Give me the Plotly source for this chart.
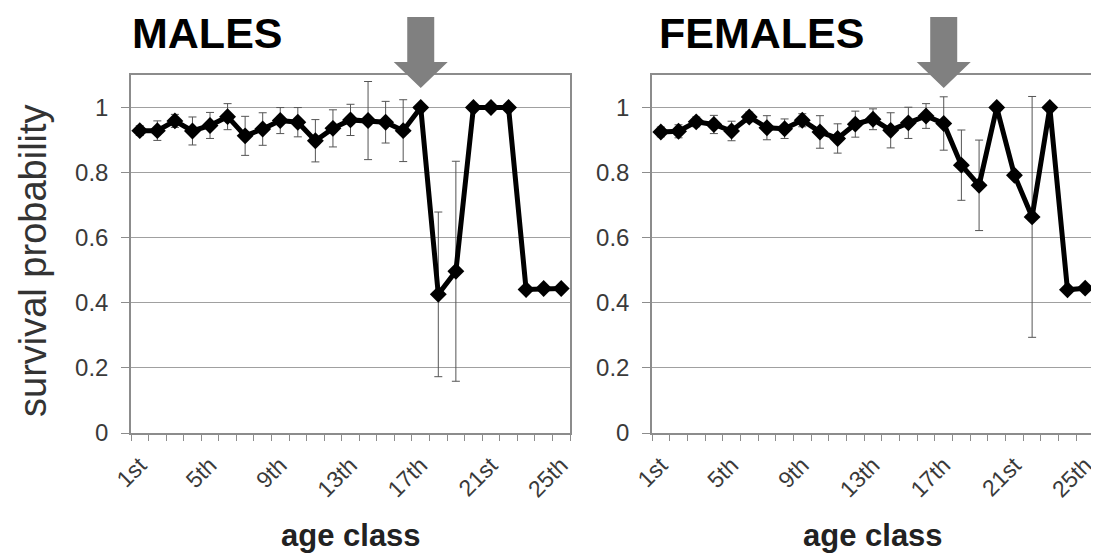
import plotly.graph_objects as go

# ---------------- data ----------------
age_classes = list(range(1, 26))
tick_positions = [1, 5, 9, 13, 17, 21, 25]
tick_labels = ["1st", "5th", "9th", "13th", "17th", "21st", "25th"]

male_survival = [0.929, 0.929, 0.959, 0.928, 0.945, 0.972, 0.913, 0.934, 0.960, 0.955,
                 0.898, 0.936, 0.962, 0.960, 0.955, 0.929, 1.000, 0.426, 0.497, 1.000,
                 1.000, 1.000, 0.441, 0.444, 0.444]
male_error = [0.015, 0.030, 0.020, 0.043, 0.040, 0.040, 0.060, 0.050, 0.040, 0.045,
              0.065, 0.057, 0.048, 0.120, 0.064, 0.095, 0.0, 0.253, 0.338, 0.0,
              0.0, 0.0, 0.0, 0.0, 0.0]

female_survival = [0.925, 0.927, 0.956, 0.948, 0.928, 0.971, 0.938, 0.935, 0.961, 0.925,
                   0.905, 0.949, 0.964, 0.930, 0.953, 0.974, 0.951, 0.823, 0.761, 1.000,
                   0.792, 0.664, 1.000, 0.440, 0.445]
female_error = [0.015, 0.020, 0.015, 0.028, 0.030, 0.015, 0.037, 0.030, 0.020, 0.050,
                0.045, 0.040, 0.032, 0.054, 0.048, 0.038, 0.082, 0.108, 0.139, 0.0,
                0.0, 0.370, 0.0, 0.0, 0.0]

panel_titles = ["MALES", "FEMALES"]
arrow_class = 17  # age class marked by the arrow

# ---------------- figure ----------------
# the page body has an 8px margin, so the figure is drawn 8px in from the window corner
OFF = 8
W, H = 1099 - OFF, 556 - OFF
FONT = "Liberation Sans, Arial, Helvetica, sans-serif"
TEXT = "#3a3a3a"
GRID = "#a0a0a0"
AXIS = "#8c8c8c"

def px_x(p):  # window pixel -> paper x
    return (p - OFF) / W

def px_y(p):  # window pixel -> paper y
    return 1 - (p - OFF) / H

fig = go.Figure()

for i, (ys, es) in enumerate([(male_survival, male_error), (female_survival, female_error)]):
    fig.add_trace(go.Scatter(
        x=age_classes, y=ys,
        xaxis="x" if i == 0 else "x2", yaxis="y" if i == 0 else "y2",
        mode="lines+markers",
        line=dict(color="black", width=5),
        marker=dict(symbol="diamond", size=13, color="black"),
        error_y=dict(type="data", array=es, visible=True, color="#555555",
                     thickness=1, width=4),
        showlegend=False, hoverinfo="x+y",
    ))

y_dom = [px_y(433), px_y(75)]
x_doms = [[px_x(131), px_x(570)], [px_x(652), px_x(1094)]]

def xaxis_cfg(dom, anchor):
    return dict(
        domain=dom, anchor=anchor, range=[0.5, 25.5], automargin=False,
        tickmode="array", tickvals=tick_positions, ticktext=tick_labels,
        tickangle=-45, ticks="", ticklabelstandoff=8,
        tickfont=dict(family=FONT, size=23, color=TEXT),
        showline=True, linecolor=AXIS, linewidth=1.5, mirror=True,
        showgrid=False, zeroline=False,
        minor=dict(tickmode="linear", tick0=0.5, dtick=1, ticks="outside",
                   ticklen=6, tickcolor=AXIS, tickwidth=1, showgrid=False),
    )

def yaxis_cfg(anchor):
    return dict(
        domain=y_dom, anchor=anchor, range=[0, 1.1], automargin=False,
        tickmode="linear", tick0=0, dtick=0.2,
        ticks="outside", ticklen=8, tickcolor=AXIS, tickwidth=1,
        ticklabelstandoff=8,
        tickfont=dict(family=FONT, size=24, color=TEXT),
        showgrid=True, gridcolor=GRID, gridwidth=1.2,
        showline=True, linecolor=AXIS, linewidth=1.5, mirror=True,
        zeroline=False,
    )

fig.update_layout(
    width=W, height=H, autosize=False,
    margin=dict(l=0, r=0, t=0, b=0),
    paper_bgcolor="white", plot_bgcolor="white",
    xaxis=xaxis_cfg(x_doms[0], "y"),
    yaxis=yaxis_cfg("x"),
    xaxis2=xaxis_cfg(x_doms[1], "y2"),
    yaxis2=yaxis_cfg("x2"),
)

annotations = []
# panel titles
for title, xpix in zip(panel_titles, [130, 657]):
    annotations.append(dict(
        text=f"<b>{title}</b>", xref="paper", yref="paper",
        x=px_x(xpix), y=px_y(33), xanchor="left", yanchor="middle",
        showarrow=False, font=dict(family=FONT, size=43, color="black")))
# x axis titles
for dom in x_doms:
    annotations.append(dict(
        text="<b>age class</b>", xref="paper", yref="paper",
        x=(dom[0] + dom[1]) / 2, y=px_y(535), xanchor="center", yanchor="middle",
        showarrow=False, font=dict(family=FONT, size=31, color="#222222")))
# y axis title
annotations.append(dict(
    text="survival probability", xref="paper", yref="paper",
    x=px_x(33), y=px_y(261), xanchor="center", yanchor="middle", textangle=-90,
    showarrow=False, font=dict(family=FONT, size=38, color="#333333")))
fig.update_layout(annotations=annotations)

# gray downward arrows marking age class 17
shapes = []
for xr, dom in zip(["x", "x2"], x_doms):
    px_per_unit = (dom[1] - dom[0]) * W / 25.0
    sw = 13.5 / px_per_unit
    hw = 27 / px_per_unit
    yt, yb, ytip = px_y(17), px_y(62), px_y(88)
    c = arrow_class
    path = (f"M {c - sw} {yt} L {c + sw} {yt} L {c + sw} {yb} L {c + hw} {yb} "
            f"L {c} {ytip} L {c - hw} {yb} L {c - sw} {yb} Z")
    shapes.append(dict(type="path", xref=xr, yref="paper", path=path,
                       fillcolor="#808080", line=dict(width=0), layer="above"))
fig.update_layout(shapes=shapes)

fig.write_html("out.html")
